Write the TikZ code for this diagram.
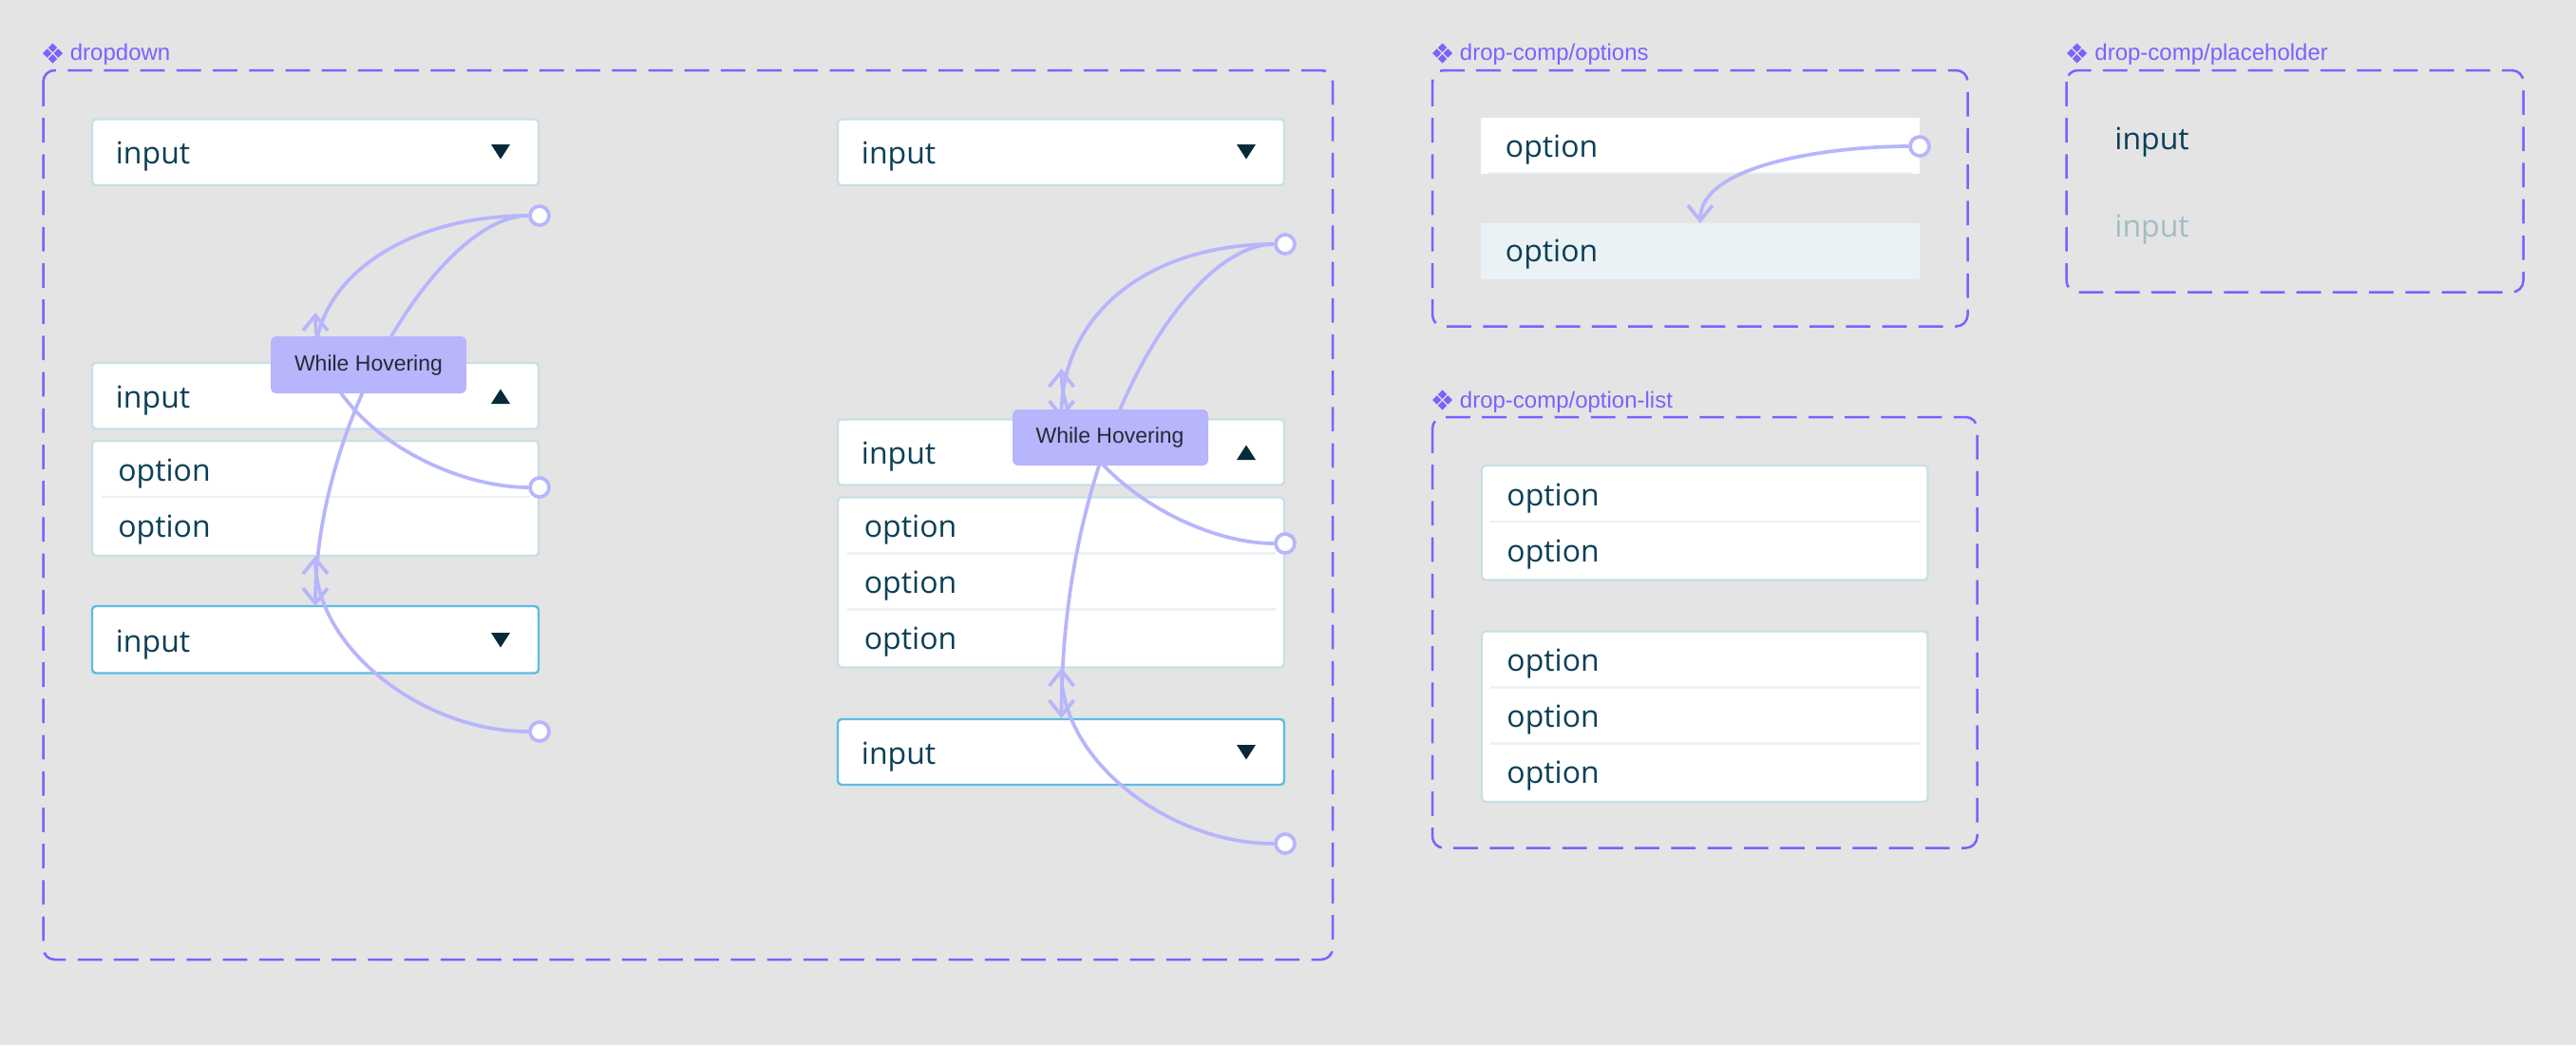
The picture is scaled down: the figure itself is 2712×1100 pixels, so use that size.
\documentclass[tikz,border=0pt]{standalone}
\usepackage{fontspec}
\setmainfont{Open Sans}
\newfontfamily\tipfont{Liberation Sans}
\usetikzlibrary{arrows.meta,positioning,shapes.geometric}
\definecolor{canvasgrey}{HTML}{E4E4E4}
\definecolor{framepurple}{HTML}{7B61FF}
\definecolor{flowpurple}{HTML}{B7B5FB}
\definecolor{boxline}{HTML}{C8DFE6}
\definecolor{activeline}{HTML}{5DBDE3}
\definecolor{rowline}{HTML}{EAF2F5}
\definecolor{inktext}{HTML}{0C3F57}
\definecolor{inkarrow}{HTML}{062A3A}
\definecolor{fainttext}{HTML}{A3BCC6}
\tikzset{
  frame/.style={framepurple,line width=1.25pt,rounded corners=6pt,dash pattern=on 12.9pt off 6.2pt},
  framelabel/.style={anchor=base west,inner sep=0pt,text=framepurple,font=\tipfont\fontsize{12}{14}\selectfont},
  inputbox/.style={fill=white,draw=boxline,line width=1.2pt,rounded corners=2pt},
  activebox/.style={inputbox,draw=activeline},
  rowrule/.style={rowline,line width=1.2pt},
  itemtext/.style={anchor=base west,inner sep=0pt,text=inktext,font=\fontsize{16}{19}\selectfont},
  flow/.style={flowpurple,line width=1.85pt,-{Straight Barb[length=8pt,width=13pt]}},
  hotspot/.style={circle,draw=flowpurple,fill=white!98!flowpurple,line width=1.85pt,minimum size=10pt,inner sep=0pt},
  hovertip/.style={fill=flowpurple,rounded corners=3pt},
  hovertext/.style={anchor=base,inner sep=0pt,text=black!78!flowpurple,font=\tipfont\fontsize{11.5}{14}\selectfont},
}
\newcommand{\compicon}[2]{%
  \foreach \dx/\dy in {-5.8/0,5.8/0,0/-5.8,0/5.8}{%
    \fill[framepurple] (#1+\dx-4.7,#2+\dy)--(#1+\dx,#2+\dy-4.7)--(#1+\dx+4.7,#2+\dy)--(#1+\dx,#2+\dy+4.7)--cycle;}}
\newcommand{\droparrow}[2]{\fill[inkarrow] (#1-10,#2)--(#1+10,#2)--(#1,#2+15.5)--cycle;}
\newcommand{\raisearrow}[2]{\fill[inkarrow] (#1-10,#2+15.5)--(#1+10,#2+15.5)--(#1,#2)--cycle;}
\begin{document}
\begin{tikzpicture}[x=0.5pt,y=-0.5pt]
  \fill[canvasgrey] (0,0) rectangle (2712,1100);
  \useasboundingbox (0,0) rectangle (2712,1100);
  % frames
  \draw[frame] (45.5,74) rectangle (1403,1010);
  \draw[frame] (1508,74) rectangle (2071.5,343.5);
  \draw[frame] (1508,439) rectangle (2081.5,892.5);
  \draw[frame] (2175.5,74) rectangle (2656.5,307.5);
  \compicon{55.5}{56}\compicon{1518.5}{56}\compicon{1518.5}{421}\compicon{2186.5}{56}
  \node[framelabel] (dropname) at (73.5,63) {dropdown};
  \node[framelabel] (optname) at (1536.5,63) {drop-comp/options};
  \node[framelabel] (listname) at (1536.5,429) {drop-comp/option-list};
  \node[framelabel] (holdername) at (2205,63) {drop-comp/placeholder};
  % left column
  \draw[inputbox] (97,125.5) rectangle (567,195);
  \draw[inputbox] (97,382) rectangle (567,451.5);
  \draw[inputbox] (97,464) rectangle (567,585);
  \draw[activebox] (97,638) rectangle (567,708.5);
  \draw[rowrule] (106.5,523)--(558,523);
  \droparrow{527}{152}\raisearrow{527}{409.5}\droparrow{527}{666}
  \node[itemtext] (leftinputa) at (121.5,172.5) {input};
  \node[itemtext] (leftinputb) at (121.5,429) {input};
  \node[itemtext] (leftopta) at (124,506) {option};
  \node[itemtext] (leftoptb) at (124,565) {option};
  \node[itemtext] (leftinputc) at (121.5,686) {input};
  % right column
  \draw[inputbox] (882,125.5) rectangle (1352,195);
  \draw[inputbox] (882,441.5) rectangle (1352,510.5);
  \draw[inputbox] (882,523.5) rectangle (1352,702.5);
  \draw[activebox] (882,757) rectangle (1352,826);
  \draw[rowrule] (892,582.5)--(1342.5,582.5);
  \draw[rowrule] (892,641.5)--(1342.5,641.5);
  \droparrow{1312}{152}\raisearrow{1312}{468.5}\droparrow{1312}{784}
  \node[itemtext] (rightinputa) at (906.5,172.5) {input};
  \node[itemtext] (rightinputb) at (906.5,488) {input};
  \node[itemtext] (rightopta) at (909.5,565) {option};
  \node[itemtext] (rightoptb) at (909.5,624) {option};
  \node[itemtext] (rightoptc) at (909.5,683) {option};
  \node[itemtext] (rightinputc) at (906.5,804) {input};
  % options
  \fill[white] (1559,124) rectangle (2021,182.5);
  \draw[rowrule] (1566.5,182)--(2013,182);
  \fill[rowline] (1559,234.5) rectangle (2021,293.5);
  \node[itemtext] (plainopt) at (1584.5,165) {option};
  \node[itemtext] (tintopt) at (1584.5,275.5) {option};
  % option lists
  \draw[inputbox] (1560,490) rectangle (2029.5,610.5);
  \draw[inputbox] (1560,664.5) rectangle (2029.5,844);
  \draw[rowrule] (1569,549)--(2021,549);
  \draw[rowrule] (1569,723.5)--(2021,723.5);
  \draw[rowrule] (1569,782.5)--(2021,782.5);
  \foreach \name/\y in {lista/532.5,listb/591.5,listc/706.5,listd/765.5,liste/824.5}{
    \node[itemtext] (\name) at (1586,\y) {option};}
  % placeholder
  \node[itemtext] (holdera) at (2226,157.5) {input};
  \node[itemtext,text=fainttext] (holderb) at (2226,249.5) {input};
  % hotspots and arrow ends
  \node[hotspot] (lefthota) at (568,227) {};
  \node[hotspot] (lefthotb) at (568,513) {};
  \node[hotspot] (lefthotc) at (568,770) {};
  \node[hotspot] (righthota) at (1353,257) {};
  \node[hotspot] (righthotb) at (1353,572) {};
  \node[hotspot] (righthotc) at (1353,888) {};
  \node[hotspot] (opthot) at (2021,154) {};
  \coordinate (leftdowna) at (332,382);
  \coordinate (leftdownb) at (332,638);
  \coordinate (leftupa) at (332,329);
  \coordinate (leftupb) at (332,585);
  \coordinate (rightdowna) at (1117.5,441);
  \coordinate (rightdownb) at (1117.5,756);
  \coordinate (rightupa) at (1117.5,388);
  \coordinate (rightupb) at (1117.5,703);
  \coordinate (optdown) at (1790,235);
  % connectors
  \draw[flow] (lefthota) .. controls (425,227) and (332,295) .. (leftdowna);
  \draw[flow] (lefthota) .. controls (465,227) and (332,440) .. (leftdownb);
  \draw[flow] (lefthotb) .. controls (465,513) and (332,440) .. (leftupa);
  \draw[flow] (lefthotc) .. controls (445,770) and (332,682) .. (leftupb);
  \draw[flow] (righthota) .. controls (1210,257) and (1117.5,330) .. (rightdowna);
  \draw[flow] (righthota) .. controls (1250,257) and (1117.5,465) .. (rightdownb);
  \draw[flow] (righthotb) .. controls (1250,572) and (1117.5,490) .. (rightupa);
  \draw[flow] (righthotc) .. controls (1230,888) and (1117.5,800) .. (rightupb);
  \draw[flow] (opthot) .. controls (1930,154) and (1790,172) .. (optdown);
  % hover tags
  \fill[hovertip] (285,354) rectangle (491,414);
  \fill[hovertip] (1066,431) rectangle (1272,490);
  \node[hovertext] (lefthover) at (388,390.5) {While Hovering};
  \node[hovertext] (righthover) at (1168.5,466.5) {While Hovering};
\end{tikzpicture}
\end{document}
